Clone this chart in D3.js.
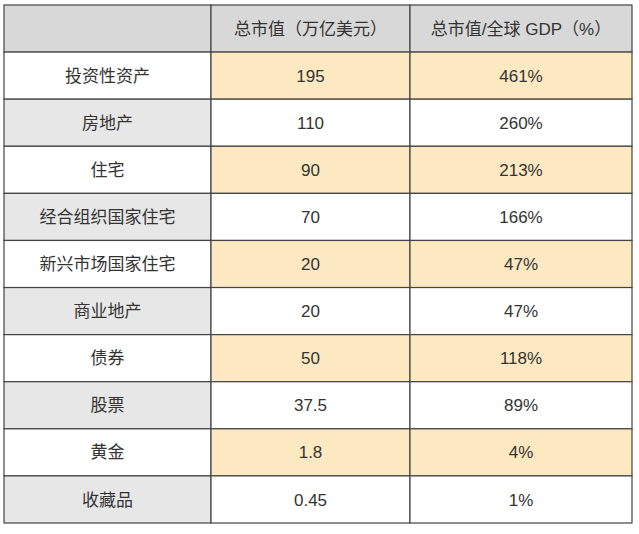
<!DOCTYPE html><html><head><meta charset="utf-8"><script src="https://cdn.jsdelivr.net/npm/d3@7"></script>
<style>body{margin:0;background:#fff}</style></head><body><svg id="c" width="639" height="534"></svg>
<script>
const headers = ["", "总市值（万亿美元）", "总市值/全球 GDP（%）"];
const categories = ["投资性资产","房地产","住宅","经合组织国家住宅","新兴市场国家住宅","商业地产","债券","股票","黄金","收藏品"];
const values = ["195","110","90","70","20","20","50","37.5","1.8","0.45"];
const gdpShare = ["461%","260%","213%","166%","47%","47%","118%","89%","4%","1%"];

const svg = d3.select("#c");
const colX = d3.scaleOrdinal().domain([0,1,2]).range([4,211,410]);
const colW = [207,199,222];
const y = d3.scaleBand().domain(d3.range(categories.length+1)).range([5,523]).padding(0);
const font = "'Liberation Sans','Noto Sans CJK SC',Arial,sans-serif";
const rows = [headers].concat(categories.map((c,i)=>[c,values[i],gdpShare[i]]));
rows.forEach((r,ri)=>{
  r.forEach((t,ci)=>{
    let fill;
    if(ri===0) fill="#d8d8d8";
    else if(ri%2===1) fill = ci===0?"#ffffff":"#fde9c1";
    else fill = ci===0?"#e7e7e7":"#ffffff";
    svg.append("rect").attr("x",colX(ci)).attr("y",y(ri)).attr("width",colW[ci]).attr("height",y.bandwidth())
      .attr("fill",fill).attr("stroke","#444").attr("stroke-width",1.2);
    svg.append("text").attr("x",colX(ci)+colW[ci]/2).attr("y",y(ri)+y.bandwidth()/2).attr("dy","0.36em")
      .attr("text-anchor","middle").attr("font-family",font).attr("font-size",17).attr("fill","#333").text(t);
  });
});
</script></body></html>
